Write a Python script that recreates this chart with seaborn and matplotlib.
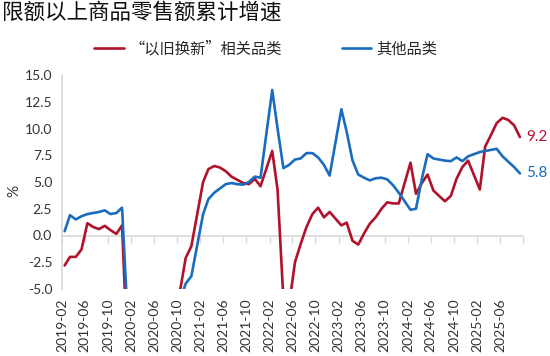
import matplotlib
matplotlib.use("Agg")
import matplotlib.pyplot as plt
import matplotlib.dates as mdates
from matplotlib.ticker import FormatStrFormatter, FixedLocator
import numpy as np
import pandas as pd
import seaborn as sns

# 1-2月合并公布, 每年从02月开始; 数据截至2025-09
years = [2019, 2020, 2021, 2022, 2023, 2024, 2025]
last_month = (2025, 9)

# “以旧换新”相关品类 累计增速(%)
trade_in = [
    -2.8, -2.0, -2.0, -1.3, 1.15, 0.8, 0.6, 0.9, 0.5, 0.15, 0.95,      # 2019
    -25.0, -22.0, -19.0, -16.0, -13.0, -10.5, -8.5, -7.0, -5.3, -2.1, -1.0,  # 2020
    5.0, 6.2, 6.5, 6.35, 6.0, 5.5, 5.2, 4.9, 4.8, 5.3, 4.6,          # 2021
    7.9, 4.3, -6.0, -6.5, -2.5, -0.8, 0.8, 2.0, 2.6, 1.7, 2.2,       # 2022
    0.95, 1.2, -0.5, -0.85, 0.2, 1.1, 1.7, 2.5, 3.1, 3.0, 3.0,       # 2023
    6.8, 3.9, 4.9, 5.7, 4.2, 3.7, 3.2, 3.7, 5.3, 6.4, 7.0,           # 2024
    4.3, 8.3, 9.4, 10.5, 11.0, 10.8, 10.3, 9.2,                      # 2025
]
# 其他品类 累计增速(%)
others = [
    0.4, 1.9, 1.5, 1.8, 2.0, 2.1, 2.2, 2.35, 2.0, 2.1, 2.6,
    -19.0, -17.5, -15.0, -12.5, -10.8, -9.5, -8.4, -7.2, -6.2, -4.5, -3.8,
    2.0, 3.4, 4.0, 4.4, 4.8, 4.9, 4.8, 4.75, 5.0, 5.5, 5.4,
    13.6, 10.0, 6.3, 6.6, 7.1, 7.2, 7.7, 7.7, 7.3, 6.6, 5.6,
    11.8, 9.7, 7.0, 5.7, 5.4, 5.15, 5.35, 5.4, 5.25, 4.7, 4.0,
    2.4, 2.5, 5.3, 7.6, 7.2, 7.1, 7.0, 6.95, 7.3, 6.95, 7.4,
    7.8, 7.9, 8.0, 8.1, 7.4, 6.9, 6.4, 5.8,
]

series_names = ["“以旧换新”相关品类", "其他品类"]
colors = ["#B0122C", "#1A6DBE"]

months = []
for y in years:
    for m in range(2, 13):
        if (y, m) > last_month:
            break
        months.append(pd.Timestamp(y, m, 15))

n = len(months)
df = pd.DataFrame({
    "date": months * 2,
    "value": trade_in + others,
    "series": [series_names[0]] * n + [series_names[1]] * n,
})

sns.set_theme(style="white")
plt.rcParams["font.family"] = ["Lato", "Noto Sans CJK SC", "DejaVu Sans"]
cjk = ["Noto Sans CJK SC", "DejaVu Sans"]
grey = "#d9d9d9"
txt = "#333333"

fig = plt.figure(figsize=(5.5, 3.56), dpi=100)
ax = fig.add_axes([62 / 550, 1 - 289 / 356, 461 / 550, 214 / 356])

sns.lineplot(data=df, x="date", y="value", hue="series",
             palette=dict(zip(series_names, colors)), linewidth=1.9,
             estimator=None, ax=ax)

# 坐标轴
ax.set_ylim(-5, 15)
ax.set_yticks(np.arange(-5, 15.1, 2.5))
ax.yaxis.set_major_formatter(FormatStrFormatter("%.1f"))
ax.set_xlim(pd.Timestamp(2019, 2, 1), pd.Timestamp(2025, 10, 1))
xticks = pd.date_range("2019-02-01", "2025-10-01", freq="4MS")
tick_nums = mdates.date2num(xticks)
ax.xaxis.set_major_locator(FixedLocator(tick_nums))
ax.set_xticklabels([d.strftime("%Y-%m") for d in xticks[:-1]] + [""])
ax.tick_params(axis="x", length=0, labelrotation=90, pad=7,
               labelsize=10, labelcolor=txt)
ax.tick_params(axis="y", direction="out", length=4, color=grey, width=1,
               labelsize=10, labelcolor=txt, pad=3)
for s in ["top", "right", "bottom"]:
    ax.spines[s].set_visible(False)
ax.spines["left"].set_color(grey)
ax.set_xlabel("")
ax.set_ylabel("%", fontsize=11, color=txt)
ax.yaxis.set_label_coords(-0.088, 0.46)

# 0 轴线和刻度
sec = ax.secondary_xaxis(0.25)
sec.set_xticks(tick_nums)
sec.set_xticklabels([])
sec.tick_params(direction="out", length=5, color=grey, width=1)
sec.spines["bottom"].set_color(grey)

# 末值标注
for vals, c in zip([trade_in, others], colors):
    ax.annotate(f"{vals[-1]:.1f}", xy=(months[-1], vals[-1]), xytext=(4.5, 0),
                textcoords="offset points", va="center", ha="left",
                color=c, fontsize=11)

sns.move_legend(ax, "center", bbox_to_anchor=(266 / 550, 1 - 49 / 356),
                bbox_transform=fig.transFigure, ncol=2, frameon=False,
                title=None, prop={"family": cjk, "size": 11},
                handlelength=1.95, handletextpad=0.35, columnspacing=3.9)

fig.text(0.004, 1 - 12.5 / 356, "限额以上商品零售额累计增速", ha="left",
         va="center", fontsize=15.5, family=cjk, color="#111111")

fig.savefig("out.png", dpi=100)
